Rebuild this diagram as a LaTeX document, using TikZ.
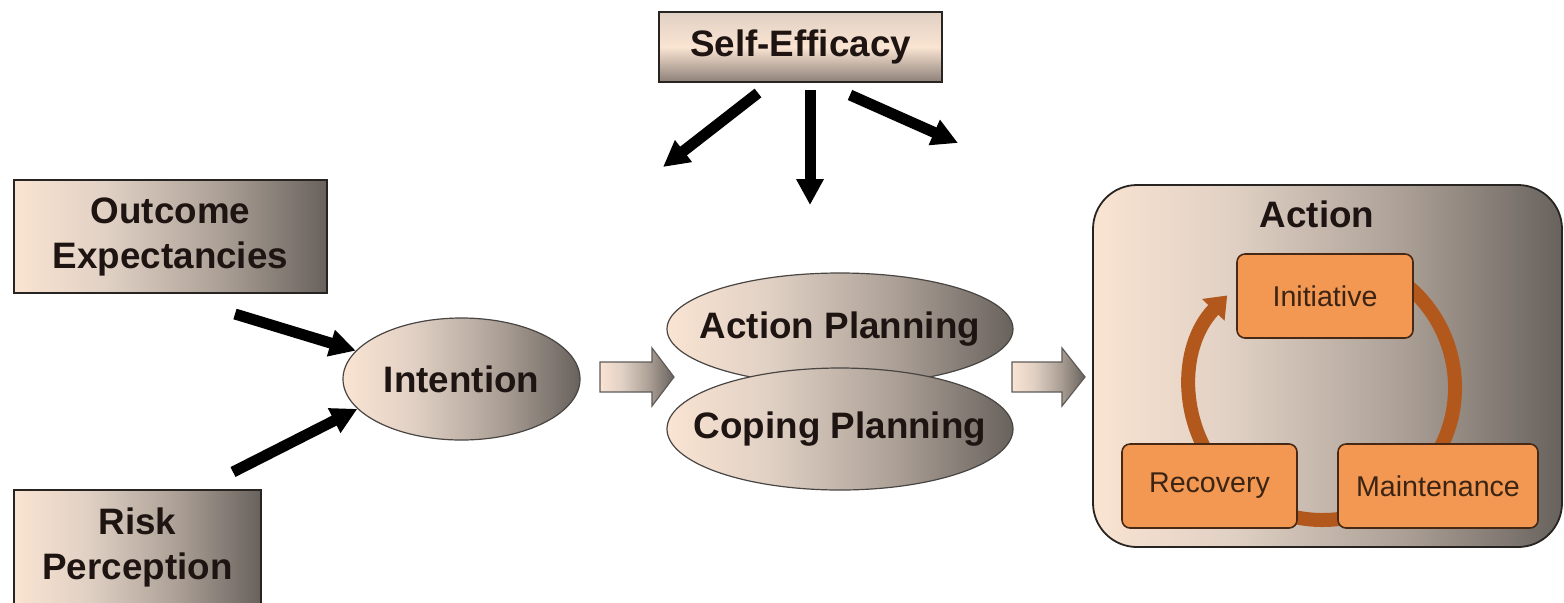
\documentclass[tikz,border=0pt]{standalone}
\usepackage{fontspec}
\setmainfont{Liberation Sans}
\usetikzlibrary{arrows.meta,shapes.geometric,calc}

\definecolor{peach}{RGB}{250,228,210}
\definecolor{pale}{RGB}{224,208,196}
\definecolor{taupe}{RGB}{172,160,150}
\definecolor{slate}{RGB}{104,98,93}
\definecolor{edge}{RGB}{40,36,34}
\definecolor{ink}{RGB}{30,20,18}
\definecolor{orangefill}{RGB}{242,152,82}
\definecolor{orangeedge}{RGB}{70,40,20}
\definecolor{orangeink}{RGB}{60,36,20}
\definecolor{loopbrown}{RGB}{178,88,28}
\definecolor{sebottom}{RGB}{140,128,120}

% warm left-to-right fill used by most shapes
\pgfdeclarehorizontalshading{warm}{100bp}{color(0bp)=(peach); color(25bp)=(peach); color(40bp)=(pale); color(58bp)=(taupe); color(75bp)=(slate); color(100bp)=(slate)}

\tikzset{
  bigfont/.style={font=\bfseries\fontsize{18.4}{22.5}\selectfont, text=ink},
  box/.style={draw=edge, line width=0.8pt, shading=warm, align=center, inner sep=0pt, bigfont},
  oval/.style={ellipse, draw=edge!85, line width=0.6pt, shading=warm, inner sep=0pt},
  push/.style={line width=5.5pt, draw=black, -{Triangle[length=13pt,width=13pt]}},
  blockarrow/.style={draw=edge!75, line width=0.6pt, shading=warm},
  stage/.style={draw=orangeedge, fill=orangefill, rounded corners=4pt, line width=0.8pt,
    minimum height=42pt, inner sep=0pt, text=orangeink, font=\fontsize{14.3}{17}\selectfont},
  loop/.style={draw=loopbrown, line width=7pt},
}

\begin{document}
\begin{tikzpicture}[x=0.5pt, y=-0.5pt]
\useasboundingbox (0,0) rectangle (1564,602);

% source constructs
\node[box, minimum width=141.5pt, minimum height=35pt, shading=axis,
      top color=pale, bottom color=sebottom, middle color=peach] (se) at (800.5,47) {Self-Efficacy};
\node[box, minimum width=156.5pt, minimum height=56.5pt] (oe) at (170.5,236.5) {Outcome\\Expectancies};
\node[box, minimum width=123.5pt, minimum height=57pt] (rp) at (137.5,547) {Risk\\Perception};

% motivational and volitional stages (ellipse size kept independent of the label)
\node[oval, minimum width=118.5pt, minimum height=61pt] (int) at (461.5,379) {};
\node[bigfont, inner sep=0pt] (intlabel) at (int.center) {Intention};
\node[oval, minimum width=173pt, minimum height=56pt] (ap) at (840,329) {};
\node[bigfont, inner sep=0pt] (aplabel) at (ap.center) {Action Planning};
\node[oval, minimum width=173pt, minimum height=61pt] (cp) at (840,429) {};
\node[bigfont, inner sep=0pt] (cplabel) at (cp.center) {Coping Planning};

% action panel
\node[draw=edge, line width=0.9pt, shading=warm, rounded corners=22pt,
      minimum width=234.5pt, minimum height=181pt] (act) at (1327.5,366) {};
\node[bigfont, inner sep=0pt] (acttitle) at (1317,214) {Action};

\coordinate (ctr) at (1322.5,387.5);
\draw[loop, -{Triangle[length=10pt,width=15pt]}]
  ($(ctr)+(225:66.25pt)$) arc[start angle=225, end angle=136, radius=66.25pt];
\draw[loop] ($(ctr)+(60:66.25pt)$) arc[start angle=60, end angle=-135, radius=66.25pt];

\node[stage, minimum width=88pt] (ini) at (1325,296) {Initiative};
\node[stage, minimum width=87.5pt] (rec) at (1209.5,486) {Recovery};
\node[stage, minimum width=100pt] (mai) at (1438,486) {Maintenance};

% thick black arrows
\coordinate (seL) at (758,93);
\coordinate (seM) at (810,90);
\coordinate (seR) at (850,95);
\coordinate (seLend) at (663,167);
\coordinate (seMend) at (810,205);
\coordinate (seRend) at (958,143);
\draw[push] (seL) -- (seLend);
\draw[push] (seM) -- (seMend);
\draw[push] (seR) -- (seRend);

\coordinate (oeTail) at (235,314);
\coordinate (rpTail) at (233,472);
\draw[push] (oeTail) -- (int.165);
\draw[push] (rpTail) -- (int.196);

% block arrows between stages
\path[blockarrow] (600,362) -- (652,362) -- (652,348) -- (674,377) -- (652,406) -- (652,392) -- (600,392) -- cycle;
\path[blockarrow] (1012,362) -- (1062,362) -- (1062,348) -- (1085,377) -- (1062,406) -- (1062,392) -- (1012,392) -- cycle;

\end{tikzpicture}
\end{document}
